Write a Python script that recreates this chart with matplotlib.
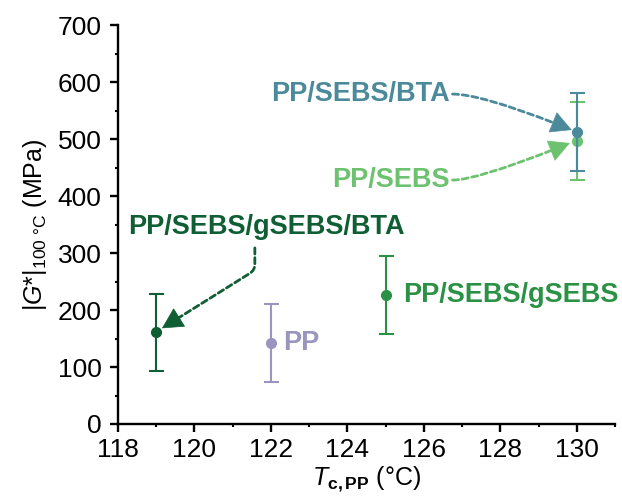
import numpy as np
import matplotlib
matplotlib.use('Agg')
import matplotlib.pyplot as plt
from matplotlib.ticker import MultipleLocator

plt.rcParams['font.family'] = ['Liberation Sans', 'DejaVu Sans']
plt.rcParams['mathtext.fontset'] = 'custom'
plt.rcParams['mathtext.rm'] = 'Liberation Sans'
plt.rcParams['mathtext.it'] = 'Liberation Sans:italic'
plt.rcParams['mathtext.bf'] = 'Liberation Sans:bold'

# data
samples = ['PP/SEBS/gSEBS/BTA', 'PP', 'PP/SEBS/gSEBS', 'PP/SEBS', 'PP/SEBS/BTA']
tc = [119, 122, 125, 130, 130]
g100 = [161, 142, 226, 497, 512]
err = [68, 69, 68, 68, 68]
colors = ['#0f5e34', '#9995bf', '#2b9245', '#6cc26e', '#4b8a9a']

fig = plt.figure(figsize=(6.22, 4.98), dpi=100)
ax = fig.add_axes([0.1897, 0.1486, 0.799, 0.801])

for i in range(len(samples)):
    ax.errorbar(tc[i], g100[i], yerr=err[i], fmt='o', color=colors[i],
                ms=7, elinewidth=1.5, capsize=5.4, capthick=1.5, zorder=3 + i)

ax.set_xlim(118, 131)
ax.set_ylim(0, 700)
ax.xaxis.set_major_locator(MultipleLocator(2))
ax.xaxis.set_minor_locator(MultipleLocator(1))
ax.yaxis.set_major_locator(MultipleLocator(100))
ax.yaxis.set_minor_locator(MultipleLocator(50))
ax.spines['top'].set_visible(False)
ax.spines['right'].set_visible(False)
for s in ['left', 'bottom']:
    ax.spines[s].set_linewidth(1.7)
ax.tick_params(which='major', direction='out', length=5.8, width=1.7, labelsize=19)
ax.tick_params(axis='x', which='major', pad=4)
ax.tick_params(axis='y', which='major', pad=6)
ax.tick_params(which='minor', direction='out', length=2.5, width=1.5)

ax.set_xlabel(r'$\mathit{T}_{\mathbf{c,PP}}$ (°C)', fontsize=18, labelpad=2)
ax.set_ylabel(r'|$\mathit{G}$*|$_{\mathrm{100\ °C}}$ (MPa)', fontsize=18, labelpad=6)

dash = (0, (2.2, 1.3))
bold = dict(fontsize=19.5, fontweight='bold')
HL = 14  # arrow head length in points


def dashed_arrow(tail, tip, color, conn, ang):
    # dashed body, stopped short of the tip
    ax.annotate('', xy=tip, xytext=tail,
                arrowprops=dict(arrowstyle='-', color=color, lw=2.0, ls=dash,
                                shrinkA=0, shrinkB=HL - 2, connectionstyle=conn))
    # solid head, ang = travel direction at the tip (display degrees)
    a = np.deg2rad(ang)
    ax.annotate('', xy=tip, xytext=(-HL * np.cos(a), -HL * np.sin(a)),
                xycoords='data', textcoords='offset points',
                arrowprops=dict(arrowstyle='-|>,head_length=0.7,head_width=0.37',
                                color=color, lw=0.5, mutation_scale=20,
                                shrinkA=0, shrinkB=0))


# PP/SEBS/BTA
ax.text(126.68, 579, 'PP/SEBS/BTA', ha='right', va='center', color=colors[4], **bold)
dashed_arrow((126.75, 579), (129.87, 516), colors[4],
             'angle3,angleA=0,angleB=-22', -22)
# PP/SEBS
ax.text(126.68, 428, 'PP/SEBS', ha='right', va='center', color=colors[3], **bold)
dashed_arrow((126.75, 428), (129.82, 493), colors[3],
             'angle3,angleA=0,angleB=22', 22)
# PP/SEBS/gSEBS/BTA
ax.text(121.88, 346, 'PP/SEBS/gSEBS/BTA', ha='center', va='center',
        color=colors[0], **bold)
dashed_arrow((121.58, 309), (119.15, 168), colors[0],
             'angle,angleA=-90,angleB=32,rad=6', 212)
# PP
ax.text(122.31, 142, 'PP', ha='left', va='center', color=colors[1], **bold)
# PP/SEBS/gSEBS
ax.text(125.45, 226, 'PP/SEBS/gSEBS', ha='left', va='center', color=colors[2], **bold)

fig.savefig('out.png', dpi=100)
